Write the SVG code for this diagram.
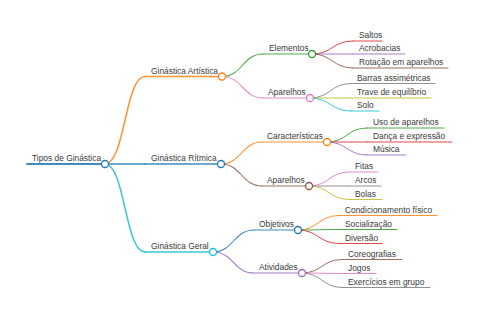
<svg xmlns="http://www.w3.org/2000/svg" width="480" height="320" viewBox="0 0 480 320">
<style>
text{font-family:"Liberation Sans",Arial,sans-serif;font-size:8.4px;fill:#3a3a3a}
path,line{fill:none;stroke-linecap:round;stroke-opacity:0.85}
circle{fill:#fff;stroke-width:1.3}
.l0{stroke-width:2}.l1{stroke-width:1.5}.l2{stroke-width:1.1}.l3{stroke-width:1}
.blue{stroke:#1f77b4}.orange{stroke:#ff7f0e}.green{stroke:#2ca02c}.red{stroke:#d62728}.purple{stroke:#9467bd}.brown{stroke:#8c564b}.pink{stroke:#e377c2}.gray{stroke:#7f7f7f}.olive{stroke:#bcbd22}.cyan{stroke:#17becf}
</style>
<rect width="480" height="320" fill="#fff"/>
<g id="connectors">
<path class="l1 orange" d="M105,164 C125,164 125,76.5 145,76.5"/>
<path class="l1 blue" d="M105,164 L145,164"/>
<path class="l1 cyan" d="M105,164 C125,164 125,252 145,252"/>
<path class="l2 green" d="M222,76.5 C242.5,76.5 242.5,54 263,54"/>
<path class="l2 pink" d="M222,76.5 C242.5,76.5 242.5,98 263,98"/>
<path class="l2 orange" d="M221,164 C241.5,164 241.5,142 262,142"/>
<path class="l2 brown" d="M221,164 C241.5,164 241.5,186 262,186"/>
<path class="l2 blue" d="M213,252 C233.5,252 233.5,230 254,230"/>
<path class="l2 purple" d="M213,252 C233.5,252 233.5,273 254,273"/>
<path class="l3 red" d="M312,54 C332.5,54 332.5,41 353,41"/>
<path class="l3 purple" d="M312,54 L353,54"/>
<path class="l3 brown" d="M312,54 C332.5,54 332.5,68 353,68"/>
<path class="l3 gray" d="M310,98 C330.5,98 330.5,83.5 351,83.5"/>
<path class="l3 olive" d="M310,98 L351,98"/>
<path class="l3 cyan" d="M310,98 C330.5,98 330.5,111 351,111"/>
<path class="l3 green" d="M327,142 C347,142 347,128 367,128"/>
<path class="l3 red" d="M327,142 L367,142"/>
<path class="l3 purple" d="M327,142 C347,142 347,155 367,155"/>
<path class="l3 pink" d="M309,186 C329,186 329,172 349,172"/>
<path class="l3 gray" d="M309,186 L349,186"/>
<path class="l3 olive" d="M309,186 C329,186 329,199.5 349,199.5"/>
<path class="l3 orange" d="M298,230 C318.5,230 318.5,215.5 339,215.5"/>
<path class="l3 green" d="M298,230 C318.5,230 318.5,229.5 339,229.5"/>
<path class="l3 red" d="M298,230 C318.5,230 318.5,243.5 339,243.5"/>
<path class="l3 brown" d="M302,273 C322,273 322,259.5 342,259.5"/>
<path class="l3 pink" d="M302,273 C322,273 322,273.5 342,273.5"/>
<path class="l3 gray" d="M302,273 C322,273 322,287.5 342,287.5"/>
</g>
<g id="root"><line class="l0 blue" x1="27" y1="164" x2="105" y2="164"/><text x="32" y="161">Tipos de Ginástica</text><circle class="blue" cx="105" cy="164" r="3.5"/></g>
<g id="artistica"><line class="l1 orange" x1="145" y1="76.5" x2="222" y2="76.5"/><text x="151" y="73.5">Ginástica Artística</text><circle class="orange" cx="222" cy="76.5" r="3.5"/></g>
<g id="ritmica"><line class="l1 blue" x1="145" y1="164" x2="221" y2="164"/><text x="151" y="161">Ginástica Rítmica</text><circle class="blue" cx="221" cy="164" r="3.5"/></g>
<g id="geral"><line class="l1 cyan" x1="145" y1="252" x2="213" y2="252"/><text x="151" y="249">Ginástica Geral</text><circle class="cyan" cx="213" cy="252" r="3.5"/></g>
<g id="elementos"><line class="l2 green" x1="263" y1="54" x2="312" y2="54"/><text x="269" y="51">Elementos</text><circle class="green" cx="312" cy="54" r="3.5"/></g>
<g id="aparelhos-a"><line class="l2 pink" x1="263" y1="98" x2="310" y2="98"/><text x="268" y="95">Aparelhos</text><circle class="pink" cx="310" cy="98" r="3.5"/></g>
<g id="caracteristicas"><line class="l2 orange" x1="262" y1="142" x2="327" y2="142"/><text x="267" y="139">Características</text><circle class="orange" cx="327" cy="142" r="3.5"/></g>
<g id="aparelhos-r"><line class="l2 brown" x1="262" y1="186" x2="309" y2="186"/><text x="267" y="183">Aparelhos</text><circle class="brown" cx="309" cy="186" r="3.5"/></g>
<g id="objetivos"><line class="l2 blue" x1="254" y1="230" x2="298" y2="230"/><text x="259" y="227">Objetivos</text><circle class="blue" cx="298" cy="230" r="3.5"/></g>
<g id="atividades"><line class="l2 purple" x1="254" y1="273" x2="302" y2="273"/><text x="259" y="270">Atividades</text><circle class="purple" cx="302" cy="273" r="3.5"/></g>
<g id="saltos"><line class="l3 red" x1="353" y1="41" x2="382" y2="41"/><text x="359" y="38">Saltos</text></g>
<g id="acrobacias"><line class="l3 purple" x1="353" y1="54" x2="405" y2="54"/><text x="359" y="51">Acrobacias</text></g>
<g id="rotacao"><line class="l3 brown" x1="353" y1="68" x2="448" y2="68"/><text x="359" y="65">Rotação em aparelhos</text></g>
<g id="barras"><line class="l3 gray" x1="351" y1="83.5" x2="435" y2="83.5"/><text x="357" y="80.5">Barras assimétricas</text></g>
<g id="trave"><line class="l3 olive" x1="351" y1="98" x2="431" y2="98"/><text x="357" y="95">Trave de equilíbrio</text></g>
<g id="solo"><line class="l3 cyan" x1="351" y1="111" x2="379" y2="111"/><text x="357" y="108">Solo</text></g>
<g id="uso"><line class="l3 green" x1="367" y1="128" x2="444" y2="128"/><text x="373" y="125">Uso de aparelhos</text></g>
<g id="danca"><line class="l3 red" x1="367" y1="142" x2="452" y2="142"/><text x="373" y="139">Dança e expressão</text></g>
<g id="musica"><line class="l3 purple" x1="367" y1="155" x2="406" y2="155"/><text x="373" y="152">Música</text></g>
<g id="fitas"><line class="l3 pink" x1="349" y1="172" x2="378" y2="172"/><text x="355" y="169">Fitas</text></g>
<g id="arcos"><line class="l3 gray" x1="349" y1="186" x2="381" y2="186"/><text x="355" y="183">Arcos</text></g>
<g id="bolas"><line class="l3 olive" x1="349" y1="199.5" x2="382" y2="199.5"/><text x="355" y="196.5">Bolas</text></g>
<g id="condicionamento"><line class="l3 orange" x1="339" y1="215.5" x2="437" y2="215.5"/><text x="345" y="212.5">Condicionamento físico</text></g>
<g id="socializacao"><line class="l3 green" x1="339" y1="229.5" x2="397" y2="229.5"/><text x="345" y="226.5">Socialização</text></g>
<g id="diversao"><line class="l3 red" x1="339" y1="243.5" x2="382" y2="243.5"/><text x="345" y="240.5">Diversão</text></g>
<g id="coreografias"><line class="l3 brown" x1="342" y1="259.5" x2="402" y2="259.5"/><text x="348" y="256.5">Coreografias</text></g>
<g id="jogos"><line class="l3 pink" x1="342" y1="273.5" x2="376" y2="273.5"/><text x="348" y="270.5">Jogos</text></g>
<g id="exercicios"><line class="l3 gray" x1="342" y1="287.5" x2="430" y2="287.5"/><text x="348" y="284.5">Exercícios em grupo</text></g>
</svg>
